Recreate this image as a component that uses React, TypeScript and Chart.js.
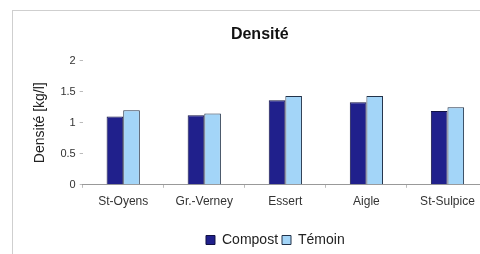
import React, { useEffect, useRef } from "react";
import { Chart, registerables } from "chart.js";

Chart.register(...registerables);

const categories = ["St-Oyens", "Gr.-Verney", "Essert", "Aigle", "St-Sulpice"];
const compost = [1.1, 1.12, 1.36, 1.33, 1.19];
const temoin = [1.2, 1.15, 1.43, 1.43, 1.25];
const yTicks = [0, 0.5, 1, 1.5, 2];
const yTickLabels = ["0", "0.5", "1", "1.5", "2"];

const FONT = "'Liberation Sans', Arial, sans-serif";

const legendShift = {
  id: "legendShift",
  afterLayout(chart: any) {
    const l = chart.legend;
    if (l) {
      l.left -= 10;
      l.right -= 10;
      l.top += 3;
      l.bottom += 3;
    }
  },
};

export default function App() {
  const ref = useRef<HTMLCanvasElement | null>(null);
  useEffect(() => {
    if (!ref.current) return;
    const chart = new Chart(ref.current, {
      type: "bar",
      data: {
        labels: categories,
        datasets: [
          {
            label: "Compost",
            data: compost,
            backgroundColor: "#20208c",
            borderColor: "#111144",
            borderWidth: 1,
            categoryPercentage: 0.41,
            barPercentage: 1,
          },
          {
            label: "Témoin",
            data: temoin,
            backgroundColor: "#a3d5f8",
            borderColor: "#22334a",
            borderWidth: 1,
            categoryPercentage: 0.41,
            barPercentage: 1,
          },
        ],
      },
      plugins: [legendShift],
      options: {
        animation: false,
        responsive: false,
        maintainAspectRatio: false,
        layout: { padding: { left: 31.6, right: 14, top: 0, bottom: 0 } },
        plugins: {
          title: {
            display: true,
            text: "Densité",
            color: "#111",
            font: { family: FONT, size: 16, weight: "bold" },
            padding: { top: 24.6, bottom: 16.8 },
          },
          legend: {
            position: "bottom",
            fullSize: false,
            labels: {
              color: "#222",
              font: { family: FONT, size: 14 },
              boxWidth: 9,
              boxHeight: 9,
              padding: 4,
              generateLabels: (c: any) =>
                c.data.datasets.map((d: any, i: number) => ({
                  text: d.label,
                  fillStyle: d.backgroundColor,
                  strokeStyle: d.borderColor,
                  lineWidth: 1,
                  datasetIndex: i,
                  hidden: false,
                  fontColor: "#222",
                })),
            },
          },
          tooltip: { enabled: false },
        },
        scales: {
          x: {
            grid: {
              offset: true,
              drawOnChartArea: false,
              drawTicks: true,
              tickLength: 3,
              color: "#bbb",
            },
            border: { display: true, color: "#999" },
            ticks: {
              color: "#333",
              font: { family: FONT, size: 12 },
              padding: 7,
              maxRotation: 0,
              autoSkip: false,
            },
            afterFit: (s: any) => {
              s.height += 9.8;
            },
          },
          y: {
            min: 0,
            max: 2,
            afterBuildTicks: (s: any) => {
              s.ticks = yTicks.map((v) => ({ value: v }));
            },
            grid: {
              drawOnChartArea: false,
              drawTicks: true,
              tickLength: 3,
              color: "#bbb",
            },
            border: { display: false },
            ticks: {
              color: "#333",
              font: { family: FONT, size: 11 },
              padding: 4,
              callback: (_v: any, i: number) => yTickLabels[i],
            },
            title: {
              display: true,
              text: "Densité [kg/l]",
              color: "#222",
              font: { family: FONT, size: 14 },
              padding: { top: 0, bottom: 8 },
            },
          },
        },
      },
    });
    return () => chart.destroy();
  }, []);

  return (
    <div style={{ position: "fixed", left: 0, top: 0, width: 480, height: 254, overflow: "hidden", background: "#fff" }}>
      <div
        style={{
          position: "absolute",
          left: 12,
          top: 10,
          width: 500,
          height: 300,
          borderTop: "1px solid #cfcfcf",
          borderLeft: "1px solid #cfcfcf",
        }}
      />
      <canvas ref={ref} width={502} height={254} style={{ position: "absolute", left: 0, top: 0 }} />
    </div>
  );
}
